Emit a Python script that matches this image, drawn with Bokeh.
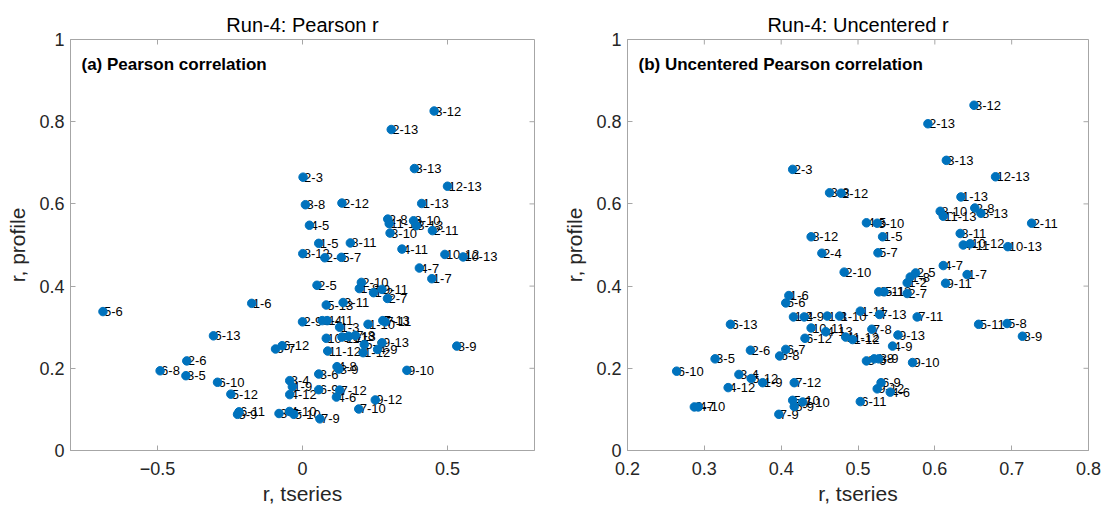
import math
from bokeh.plotting import figure
from bokeh.layouts import row
from bokeh.models import ColumnDataSource, FixedTicker, Label, Range1d
from bokeh.core.properties import value
from bokeh.embed import file_html
from bokeh.resources import INLINE

pairs = ["1-2", "1-3", "1-4", "1-5", "1-6", "1-7", "1-8", "1-9", "1-10", "1-11", "1-12", "1-13",
         "2-3", "2-4", "2-5", "2-6", "2-7", "2-8", "2-9", "2-10", "2-11", "2-12", "2-13",
         "3-4", "3-5", "3-6", "3-7", "3-8", "3-9", "3-10", "3-11", "3-12", "3-13",
         "4-5", "4-6", "4-7", "4-8", "4-9", "4-10", "4-11", "4-12", "4-13",
         "5-6", "5-7", "5-8", "5-9", "5-10", "5-11", "5-12", "5-13",
         "6-7", "6-8", "6-9", "6-10", "6-11", "6-12", "6-13",
         "7-8", "7-9", "7-10", "7-11", "7-12", "7-13",
         "8-9", "8-10", "8-11", "8-12", "8-13",
         "9-10", "9-11", "9-12", "9-13",
         "10-11", "10-12", "10-13",
         "11-12", "11-13",
         "12-13"]

pearson_tseries = [0.245, 0.128, 0.068, 0.056, -0.175, 0.446, 0.196, -0.035, 0.226, 0.085, 0.209, 0.411,
                   0.002, 0.077, 0.050, -0.399, 0.293, 0.294, 0.000, 0.203, 0.448, 0.136, 0.306,
                   -0.044, -0.402, 0.056, -0.081, 0.010, 0.125, 0.302, 0.140, 0.454, 0.386,
                   0.024, 0.117, 0.403, 0.119, 0.259, -0.045, 0.343, -0.044, 0.159,
                   -0.688, 0.134, 0.213, -0.224, -0.030, 0.136, -0.247, 0.082,
                   -0.093, -0.491, 0.056, -0.293, -0.219, -0.070, -0.307,
                   0.182, 0.060, 0.194, 0.285, 0.128, 0.277,
                   0.532, 0.383, 0.165, 0.001, 0.392,
                   0.360, 0.274, 0.251, 0.274,
                   0.082, 0.491, 0.554,
                   0.087, 0.299,
                   0.500]
pearson_profile = [0.384, 0.300, 0.316, 0.504, 0.358, 0.418, 0.394, 0.155, 0.307, 0.316, 0.238, 0.601,
                   0.665, 0.469, 0.402, 0.218, 0.370, 0.563, 0.313, 0.409, 0.535, 0.602, 0.781,
                   0.170, 0.182, 0.186, 0.090, 0.598, 0.198, 0.529, 0.360, 0.826, 0.686,
                   0.548, 0.130, 0.444, 0.204, 0.246, 0.095, 0.490, 0.136, 0.278,
                   0.338, 0.470, 0.258, 0.088, 0.088, 0.276, 0.137, 0.354,
                   0.247, 0.194, 0.148, 0.166, 0.094, 0.255, 0.279,
                   0.280, 0.077, 0.101, 0.313, 0.147, 0.316,
                   0.254, 0.559, 0.505, 0.479, 0.547,
                   0.195, 0.392, 0.123, 0.262,
                   0.273, 0.477, 0.471,
                   0.242, 0.552,
                   0.643]

uncentered_tseries = [0.564, 0.460, 0.416, 0.532, 0.410, 0.642, 0.568, 0.376, 0.476, 0.503, 0.493, 0.634,
                      0.415, 0.453, 0.575, 0.360, 0.564, 0.652, 0.430, 0.482, 0.726, 0.478, 0.591,
                      0.345, 0.314, 0.511, 0.287, 0.463, 0.527, 0.525, 0.527, 0.651, 0.615,
                      0.511, 0.542, 0.611, 0.521, 0.545, 0.292, 0.637, 0.331, 0.458,
                      0.406, 0.526, 0.694, 0.417, 0.415, 0.657, 0.361, 0.534,
                      0.406, 0.398, 0.530, 0.264, 0.503, 0.431, 0.334,
                      0.518, 0.397, 0.428, 0.577, 0.417, 0.528,
                      0.714, 0.607, 0.633, 0.439, 0.660,
                      0.571, 0.614, 0.525, 0.552,
                      0.439, 0.646, 0.695,
                      0.484, 0.611,
                      0.679]
uncentered_profile = [0.408, 0.327, 0.325, 0.520, 0.377, 0.428, 0.422, 0.165, 0.327, 0.339, 0.270, 0.617,
                      0.684, 0.480, 0.432, 0.244, 0.382, 0.590, 0.325, 0.434, 0.553, 0.626, 0.795,
                      0.185, 0.223, 0.218, 0.106, 0.627, 0.223, 0.553, 0.386, 0.840, 0.706,
                      0.554, 0.142, 0.450, 0.223, 0.254, 0.106, 0.500, 0.153, 0.289,
                      0.359, 0.481, 0.309, 0.107, 0.122, 0.307, 0.175, 0.386,
                      0.246, 0.230, 0.165, 0.193, 0.119, 0.273, 0.307,
                      0.295, 0.088, 0.118, 0.325, 0.165, 0.331,
                      0.278, 0.582, 0.528, 0.520, 0.577,
                      0.214, 0.407, 0.150, 0.281,
                      0.298, 0.503, 0.496,
                      0.276, 0.570,
                      0.666]

x_ticks_a = [-0.5, 0, 0.5]
x_ticks_b = [0.2, 0.3, 0.4, 0.5, 0.6, 0.7, 0.8]
y_ticks = [0, 0.2, 0.4, 0.6, 0.8, 1]

titles = ["Run-4: Pearson r", "Run-4: Uncentered r"]
panel_labels = ["(a) Pearson correlation", "(b) Uncentered Pearson correlation"]
x_label = "r, tseries"
y_label = "r, profile"

AX_FONT = "Liberation Sans"
TXT_FONT = "Liberation Sans"
AX_COLOR = "#a6a6a6"
BLUE = "#0072BD"


def make_panel(xs, ys, xr, xticks, title, tag, width, bl, br):
    p = figure(width=width, height=509, x_range=Range1d(*xr), y_range=Range1d(0, 1),
               output_backend="svg", toolbar_location=None,
               min_border_left=bl, min_border_right=br, min_border_top=39, min_border_bottom=59)
    p.title.text = title
    p.title.align = "center"
    p.title.text_font = AX_FONT
    p.title.text_font_size = "20px"
    p.title.text_font_style = "normal"
    p.title.text_color = "#000000"
    p.title.standoff = 8
    p.grid.visible = False
    p.outline_line_color = AX_COLOR
    p.background_fill_color = "white"
    p.border_fill_color = "white"

    p.xaxis.ticker = FixedTicker(ticks=xticks)
    p.yaxis.ticker = FixedTicker(ticks=y_ticks)
    p.yaxis.major_label_overrides = {0: "0", 1: "1"}
    p.xaxis.major_label_overrides = {0: "0"}
    p.xaxis.axis_label = x_label
    p.yaxis.axis_label = y_label
    for ax in (p.xaxis[0], p.yaxis[0]):
        ax.axis_line_color = AX_COLOR
        ax.major_tick_line_color = AX_COLOR
        ax.major_tick_in = 5
        ax.major_tick_out = 0
        ax.minor_tick_line_color = None
        ax.major_label_text_font = AX_FONT
        ax.major_label_text_font_size = "18px"
        ax.major_label_text_color = "#262626"
        ax.axis_label_text_font = AX_FONT
        ax.axis_label_text_font_size = "21px"
        ax.axis_label_text_font_style = "normal"
        ax.axis_label_text_color = "#262626"
    p.xaxis.major_label_standoff = 11
    p.xaxis.axis_label_standoff = 4
    p.yaxis.major_label_standoff = 6
    p.yaxis.axis_label_standoff = 7

    # inward tick marks on the top and right edges of the box
    p.ray(x=xticks, y=[1] * len(xticks), length=5, length_units="screen",
          angle=-math.pi / 2, line_color=AX_COLOR, line_width=1)
    p.ray(x=[xr[1]] * len(y_ticks), y=y_ticks, length=5, length_units="screen",
          angle=math.pi, line_color=AX_COLOR, line_width=1)

    src = ColumnDataSource(dict(x=xs, y=ys, lab=pairs))
    p.text("x", "y", text="lab", source=src, text_align="left", text_baseline="middle",
           x_offset=1, text_font=value(TXT_FONT), text_font_size="13px", text_color="#000000")
    p.scatter("x", "y", source=src, size=8.5, fill_color=BLUE, line_color=BLUE)

    p.add_layout(Label(x=11, y=386, x_units="screen", y_units="screen", text=tag,
                       text_font=TXT_FONT, text_font_size="17px", text_font_style="bold",
                       text_baseline="middle", text_color="#000000"))
    return p


pa = make_panel(pearson_tseries, pearson_profile, (-0.8, 0.8), x_ticks_a, titles[0], panel_labels[0], 560, 70, 26)
pb = make_panel(uncentered_tseries, uncentered_profile, (0.2, 0.8), x_ticks_b, titles[1], panel_labels[1], 544, 64, 16)

layout = row(pa, pb)
open("out.html", "w").write(file_html(layout, INLINE))
